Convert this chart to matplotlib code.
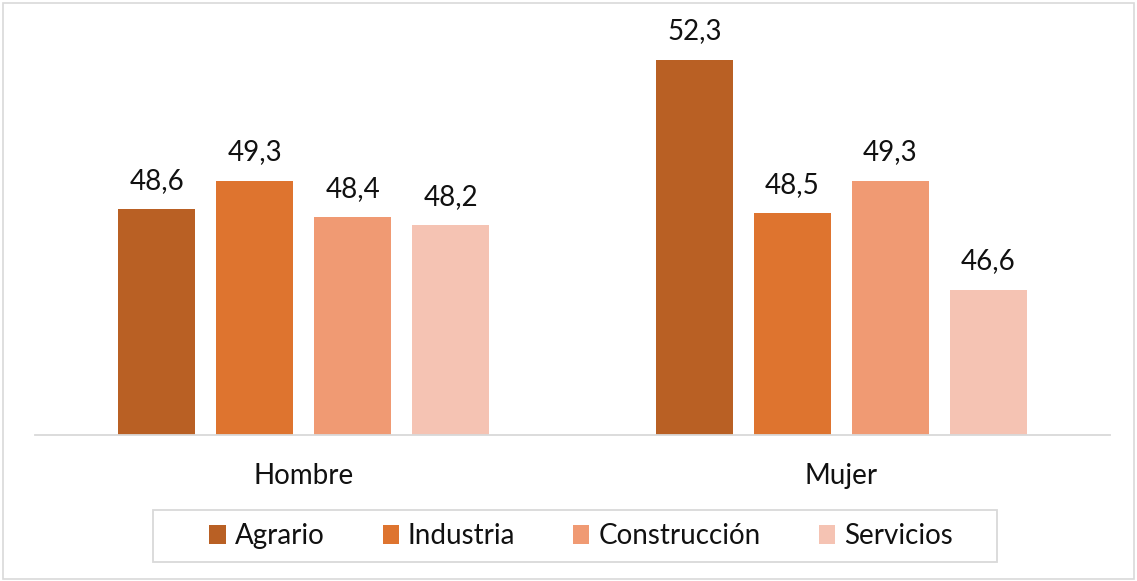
import matplotlib
matplotlib.use("Agg")
import matplotlib.pyplot as plt
from matplotlib.patches import Rectangle
import numpy as np

plt.rcParams['font.family'] = ['Lato', 'DejaVu Sans']

categories = ["Hombre", "Mujer"]
series = ["Agrario", "Industria", "Construcción", "Servicios"]
values = {
    "Agrario": [48.6, 52.3],
    "Industria": [49.3, 48.5],
    "Construcción": [48.4, 49.3],
    "Servicios": [48.2, 46.6],
}
colors = ["#B96024", "#DE742F", "#F09A73", "#F5C3B3"]

W, H = 1137, 581
fig = plt.figure(figsize=(W / 100, H / 100), dpi=100)
fig.patch.set_facecolor("white")

# outer frame
fig.patches.append(Rectangle((3 / W, 2 / H), 1131 / W, 576 / H, transform=fig.transFigure,
                             fill=False, edgecolor="#D9D9D9", linewidth=1.2))

ax = fig.add_axes([35 / W, (581 - 435) / H, 1075 / W, (435 - 8) / H])
ymin = 43.0
ymax = ymin + (435 - 8) / 40.35
ax.set_ylim(ymin, ymax)
ax.set_xlim(-0.5, 1.5)

x = np.arange(len(categories))
bw = 77 / 537.5
step = 98 / 537.5
for i, s in enumerate(series):
    pos = x + (i - 1.5) * step
    ax.bar(pos, np.array(values[s]) - ymin, bottom=ymin, width=bw, color=colors[i], label=s)
    for xp, v in zip(pos, values[s]):
        ax.annotate(f"{v:.1f}".replace(".", ","), (xp, v), xytext=(0, 11), textcoords="offset points",
                    ha="center", va="bottom", fontsize=20, color="#111111")

for sp in ["top", "right", "left"]:
    ax.spines[sp].set_visible(False)
ax.spines["bottom"].set_color("#D9D9D9")
ax.spines["bottom"].set_linewidth(1.3)
ax.set_yticks([])
ax.set_xticks(x)
ax.set_xticklabels(categories, fontsize=20, color="#111111")
ax.tick_params(axis="x", length=0, pad=20)

# legend frame drawn separately
fig.patches.append(Rectangle((153 / W, 1 - 562 / H), (997 - 153) / W, 52 / H, transform=fig.transFigure,
                             fill=False, edgecolor="#D9D9D9", linewidth=1.3))
leg = fig.legend(loc="center", bbox_to_anchor=(581 / W, 1 - 536 / H), ncol=4, frameon=False,
                 fontsize=20, handlelength=0.58, handleheight=0.65, handletextpad=0.32,
                 columnspacing=2.1, borderpad=0.0)
for t in leg.get_texts():
    t.set_color("#111111")

fig.savefig("out.png", dpi=100, facecolor="white")
